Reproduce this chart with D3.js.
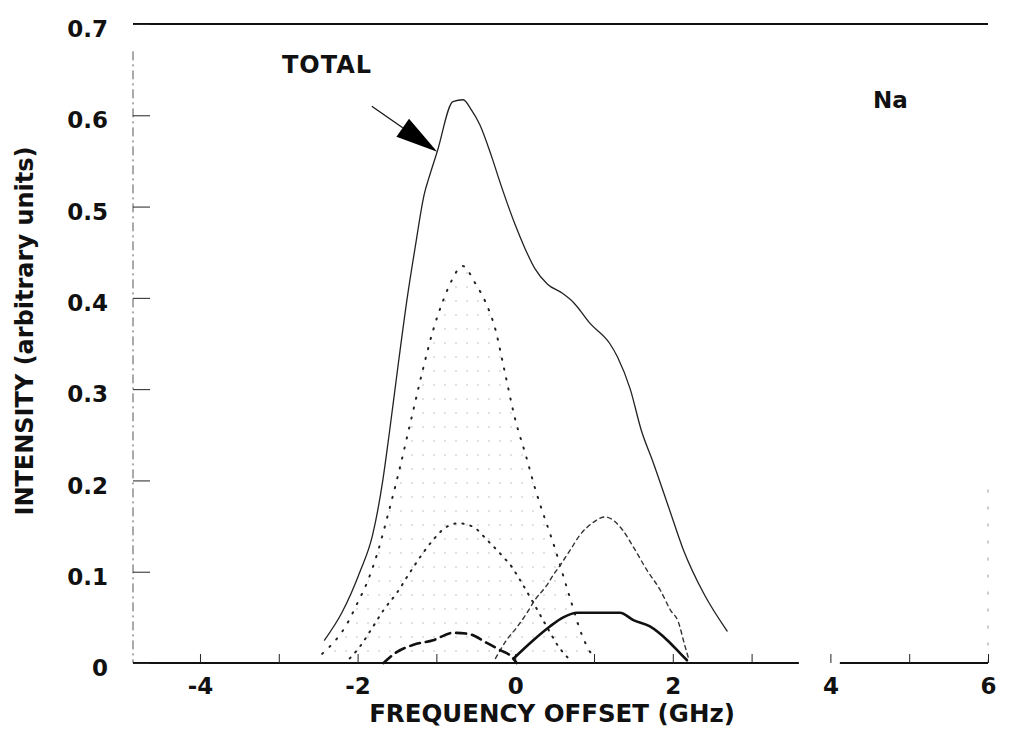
<!DOCTYPE html>
<html>
<head>
<meta charset="utf-8">
<script src="https://cdn.jsdelivr.net/npm/d3@7"></script>
<style>
    body { margin: 0; background: #fff; }
    svg text { font-family: "DejaVu Sans", Arial, sans-serif; font-weight: bold; fill: #111; }
</style>
</head>
<body>
<svg id="chart" width="1009" height="730"></svg>
<script>
// values: [frequency offset (GHz), intensity]
const totalCurve = [[-2.42,0.025],[-2.2,0.055],[-1.97,0.1],[-1.81,0.14],[-1.68,0.2],[-1.6,0.25],
    [-1.48,0.33],[-1.37,0.4],[-1.27,0.455],[-1.15,0.515],[-1.1,0.53],[-0.99,0.56],[-0.79,0.615],
    [-0.66,0.617],[-0.55,0.605],[-0.45,0.59],[-0.3,0.555],[-0.19,0.526],[0.0,0.48],[0.12,0.455],
    [0.25,0.432],[0.41,0.415],[0.6,0.405],[0.74,0.395],[0.95,0.372],[1.2,0.35],[1.3,0.335],
    [1.46,0.3],[1.6,0.255],[1.75,0.22],[1.95,0.17],[2.13,0.125],[2.4,0.075],[2.69,0.035]];
const bigDotted = [[-2.45,0.01],[-2.12,0.045],[-2.0,0.066],[-1.88,0.088],[-1.75,0.12],[-1.61,0.164],
    [-1.48,0.208],[-1.36,0.252],[-1.29,0.278],[-1.17,0.322],[-1.04,0.365],[-0.91,0.398],[-0.8,0.42],
    [-0.67,0.435],[-0.5,0.415],[-0.38,0.396],[-0.25,0.365],[-0.14,0.322],[0.0,0.267],[0.14,0.226],
    [0.25,0.192],[0.51,0.124],[0.7,0.07],[0.85,0.03],[1.0,0.005]];
const smallDotted = [[-2.1,0.005],[-1.97,0.018],[-1.81,0.039],[-1.67,0.058],[-1.5,0.077],[-1.33,0.1],
    [-1.14,0.124],[-1.02,0.137],[-0.89,0.148],[-0.72,0.153],[-0.53,0.149],[-0.36,0.135],[-0.15,0.116],
    [-0.04,0.105],[0.04,0.094],[0.23,0.066],[0.4,0.04],[0.55,0.018],[0.7,0.003]];
const shortDashed = [[-0.25,0.005],[-0.21,0.011],[-0.11,0.025],[0.02,0.039],[0.15,0.055],[0.25,0.069],
    [0.4,0.085],[0.48,0.096],[0.57,0.107],[0.7,0.124],[0.82,0.14],[0.99,0.154],[1.14,0.16],[1.36,0.146],
    [1.5,0.127],[1.67,0.102],[1.84,0.08],[1.97,0.058],[2.07,0.045],[2.15,0.02],[2.2,0.005]];
const longDashed = [[-1.67,0.0],[-1.52,0.011],[-1.29,0.02],[-1.04,0.025],[-0.79,0.033],[-0.6,0.032],
    [-0.36,0.022],[-0.19,0.014],[-0.06,0.008],[0.02,0.0]];
const thickSolid = [[-0.02,0.005],[0.23,0.025],[0.44,0.04],[0.61,0.05],[0.79,0.055],[1.33,0.055],
    [1.5,0.047],[1.71,0.04],[1.93,0.025],[2.1,0.01],[2.18,0.003]];

const xMinorTicks = [-4, -3, -2, -1, 0, 1, 2, 3, 4, 5, 6];
const xTickLabels = [-4, -2, 0, 2, 4, 6];
const yTicks = [0, 0.1, 0.2, 0.3, 0.4, 0.5, 0.6, 0.7];
const xBreak = [3.6, 4.12];          // gap in the frequency axis
const arrowFrom = [-1.82, 0.61];     // "TOTAL" pointer, data units
const arrowTo = [-0.99, 0.56];

/** Draws the Na spectrum figure. */
class Spectrum {
    constructor() {
        this.svg = d3.select("#chart");
        this.x = d3.scaleLinear().domain([-4.85, 6]).range([133, 988]);
        this.y = d3.scaleLinear().domain([0, 0.7]).range([663, 24]);
        this.line = d3.line().x(d => this.x(d[0])).y(d => this.y(d[1])).curve(d3.curveMonotoneX);
    }

    drawFrame() {
        let x = this.x, y = this.y, svg = this.svg;

        // stipple used under the large component
        svg.append("defs").append("pattern")
            .attr("id", "stipple").attr("patternUnits", "userSpaceOnUse")
            .attr("width", 11).attr("height", 14)
            .append("circle").attr("cx", 5).attr("cy", 7).attr("r", 0.7).attr("fill", "#aaa");

        svg.append("line").attr("x1", x(-4.85)).attr("x2", x(6)).attr("y1", y(0.7)).attr("y2", y(0.7))
            .attr("stroke", "#111").attr("stroke-width", 2);
        svg.append("line").attr("x1", x(-4.85)).attr("x2", x(-4.85)).attr("y1", y(0.67)).attr("y2", y(0))
            .attr("stroke", "#555").attr("stroke-width", 1).attr("stroke-dasharray", "9,4,2,4");
        svg.append("line").attr("x1", x(6)).attr("x2", x(6)).attr("y1", y(0.19)).attr("y2", y(0))
            .attr("stroke", "#999").attr("stroke-width", 1).attr("stroke-dasharray", "3,14");

        // bottom axis with the break
        [[-4.85, xBreak[0]], [xBreak[1], 6]].forEach(seg => {
            svg.append("line").attr("x1", x(seg[0])).attr("x2", x(seg[1])).attr("y1", y(0)).attr("y2", y(0))
                .attr("stroke", "#111").attr("stroke-width", 2.2);
        });

        let ticks = svg.append("g").attr("transform", `translate(0,${y(0)})`)
            .call(d3.axisBottom(x).tickValues(xMinorTicks).tickSize(-9).tickFormat(""));
        ticks.select(".domain").remove();
        ticks.selectAll("line").attr("stroke", "#222");

        let xLabels = svg.append("g").attr("transform", `translate(0,${y(0)})`)
            .call(d3.axisBottom(x).tickValues(xTickLabels).tickSize(0).tickPadding(15).tickFormat(d => String(d)));
        xLabels.select(".domain").remove();
        xLabels.selectAll("text").attr("font-size", 23).attr("font-family", null);

        let yAxis = svg.append("g").attr("transform", `translate(${x(-4.85)},0)`)
            .call(d3.axisLeft(y).tickValues(yTicks).tickSize(-17).tickPadding(25)
                .tickFormat(d => d === 0 ? "0" : d.toFixed(1)));
        yAxis.select(".domain").remove();
        yAxis.selectAll("line").attr("stroke", "#222");
        yAxis.selectAll("text").attr("font-size", 23).attr("font-family", null).attr("dy", "0.55em");

        svg.append("text").attr("x", 552).attr("y", 722).attr("text-anchor", "middle")
            .attr("font-size", 24.5).text("FREQUENCY OFFSET (GHz)");
        svg.append("text").attr("transform", "translate(33,331) rotate(-90)").attr("text-anchor", "middle")
            .attr("font-size", 24).text("INTENSITY (arbitrary units)");
    }

    drawCurves() {
        let svg = this.svg, line = this.line, x = this.x, y = this.y;

        svg.append("path").datum(bigDotted)
            .attr("d", d3.area().x(d => x(d[0])).y0(y(0)).y1(d => y(d[1])).curve(d3.curveMonotoneX))
            .attr("fill", "url(#stipple)");

        const styles = [
            [bigDotted, 2, "1.2,9", "#222"],
            [smallDotted, 2, "1.2,7", "#222"],
            [shortDashed, 1.4, "4,4", "#333"],
            [longDashed, 2.6, "10,6", "#111"],
            [thickSolid, 2.6, null, "#111"],
            [totalCurve, 1.3, null, "#222"]
        ];
        styles.forEach(s => {
            svg.append("path").datum(s[0]).attr("d", line)
                .attr("fill", "none").attr("stroke", s[3]).attr("stroke-width", s[1])
                .attr("stroke-linecap", "round").attr("stroke-dasharray", s[2]);
        });
    }

    drawNotes() {
        let svg = this.svg, x = this.x, y = this.y;
        let x0 = x(arrowFrom[0]), y0 = y(arrowFrom[1]), x1 = x(arrowTo[0]), y1 = y(arrowTo[1]);
        let len = Math.hypot(x1 - x0, y1 - y0), ux = (x1 - x0) / len, uy = (y1 - y0) / len;
        let bx = x1 - ux * 42, by = y1 - uy * 42;

        svg.append("line").attr("x1", x0).attr("y1", y0).attr("x2", bx).attr("y2", by)
            .attr("stroke", "#111").attr("stroke-width", 1.2);
        svg.append("polygon")
            .attr("points", [[x1, y1], [bx - uy * 11, by + ux * 11], [bx + uy * 11, by - ux * 11]].join(" "))
            .attr("fill", "#000");

        svg.append("text").attr("x", 282).attr("y", 73).attr("font-size", 24)
            .attr("letter-spacing", 1).text("TOTAL");
        svg.append("text").attr("x", 873).attr("y", 108).attr("font-size", 23).text("Na");
    }
}

let chart = new Spectrum();
chart.drawFrame();
chart.drawCurves();
chart.drawNotes();
</script>
</body>
</html>
